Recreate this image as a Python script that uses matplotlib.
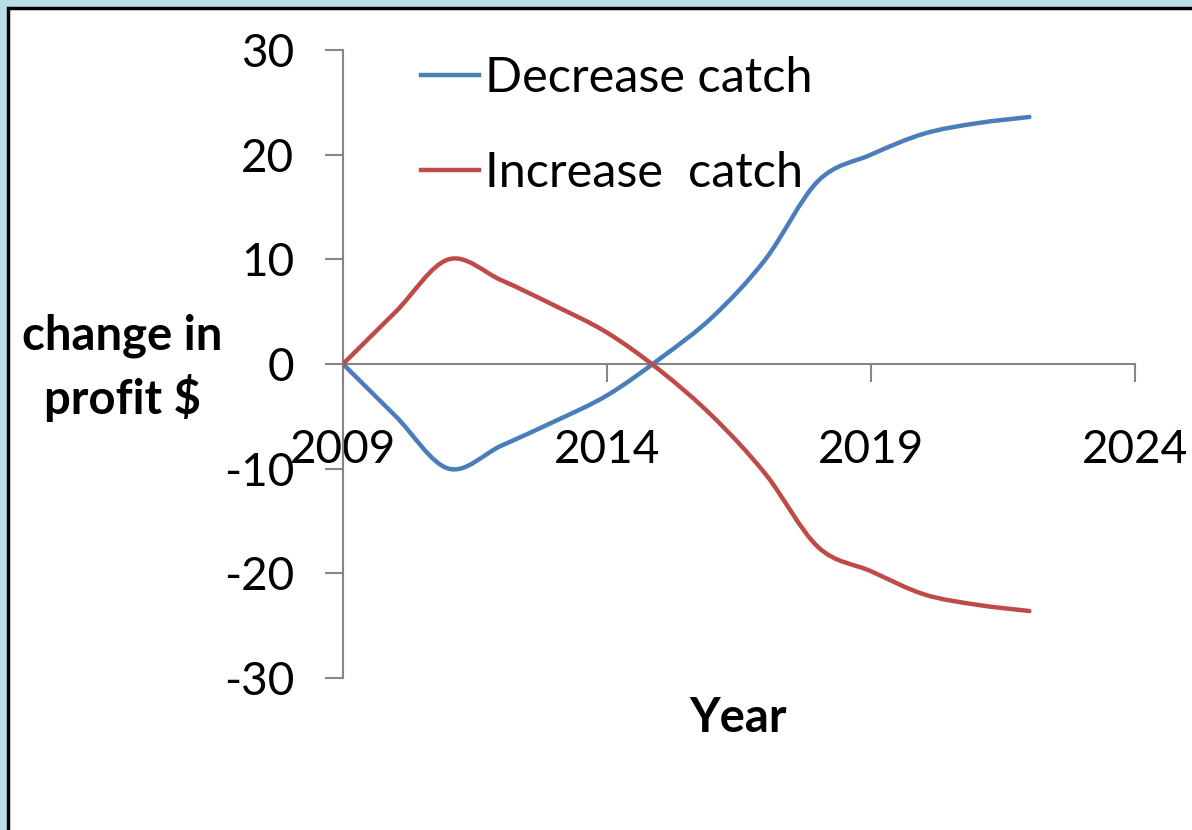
import numpy as np
import matplotlib.pyplot as plt
from matplotlib.path import Path
from matplotlib.patches import PathPatch, Rectangle
from matplotlib.lines import Line2D

plt.rcParams['font.family'] = ['Lato', 'DejaVu Sans']
plt.rcParams['axes.unicode_minus'] = False

# values
years = [2009, 2010, 2011, 2012, 2013, 2014, 2015, 2016, 2017, 2018, 2019, 2020, 2021, 2022]
decrease_catch = [0, -5, -10, -7.8, -5.5, -3, 0.5, 4.5, 10, 17.5, 20, 22, 23, 23.6]
increase_catch = [0, 5, 10, 8, 5.6, 3, -0.6, -5, -10.5, -17.5, -19.8, -22, -23, -23.6]
x_ticks = [2009, 2014, 2019, 2024]
y_ticks = [-30, -20, -10, 0, 10, 20, 30]

BLUE = '#4A7EBB'
RED = '#BE4B48'
GREY = '#868686'


def smooth_path(xs, ys):
    # Excel style smoothed line: cubic bezier through each point (Catmull-Rom tangents)
    pts = np.column_stack([xs, ys]).astype(float)
    n = len(pts)
    verts = [pts[0]]
    codes = [Path.MOVETO]
    for i in range(n - 1):
        p0 = pts[i - 1] if i > 0 else pts[i]
        p1 = pts[i]
        p2 = pts[i + 1]
        p3 = pts[i + 2] if i + 2 < n else pts[i + 1]
        c1 = p1 + (p2 - p0) / 6.0
        c2 = p2 - (p3 - p1) / 6.0
        verts += [c1, c2, p2]
        codes += [Path.CURVE4] * 3
    return Path(verts, codes)


fig = plt.figure(figsize=(11.92, 8.30), dpi=100, facecolor='#B7DDE8')

# white panel with black edge (open to the right and bottom)
fig.patches.append(Rectangle((8 / 1192, -0.1), 1.2, 1 - 8 / 830 + 0.1,
                             transform=fig.transFigure, facecolor='white',
                             edgecolor='black', linewidth=2.5, zorder=-5))

ax = fig.add_axes([343 / 1192, 1 - 678 / 830, (1135 - 343) / 1192, (678 - 50) / 830])
ax.set_facecolor('none')
ax.set_zorder(2)

for ys, col in [(decrease_catch, BLUE), (increase_catch, RED)]:
    ax.add_patch(PathPatch(smooth_path(years, ys), facecolor='none', edgecolor=col,
                           linewidth=3.2, capstyle='round', joinstyle='round', zorder=3))

ax.set_xlim(2009, 2024)
ax.set_ylim(-30, 30)

ax.spines['top'].set_visible(False)
ax.spines['right'].set_visible(False)
ax.spines['bottom'].set_position(('data', 0))
for s in ['left', 'bottom']:
    ax.spines[s].set_color(GREY)
    ax.spines[s].set_linewidth(1.5)

ax.set_xticks(x_ticks)
ax.set_yticks(y_ticks)
ax.tick_params(axis='both', direction='out', length=13, width=1.5, color=GREY,
               labelsize=33, labelcolor='black')
ax.tick_params(axis='y', pad=22)
ax.tick_params(axis='x', pad=34)

# legend drawn as lines + text at the top
handles = [Line2D([], [], color=BLUE, linewidth=3.2),
           Line2D([], [], color=RED, linewidth=3.2)]
ax.legend(handles, ['Decrease catch', 'Increase  catch'], loc='upper left',
          bbox_to_anchor=(0.043, 1.06), frameon=False, fontsize=35,
          handlelength=1.2, handletextpad=0.12, labelspacing=1.05)

fig.text(122 / 1192, 1 - 368 / 830, 'change in\nprofit $', ha='center', va='center',
         fontsize=34, fontweight='bold', linespacing=1.4)
fig.text(738 / 1192, 1 - 718 / 830, 'Year', ha='center', va='center',
         fontsize=34, fontweight='bold')

fig.savefig('out.png', dpi=100, facecolor=fig.get_facecolor())
